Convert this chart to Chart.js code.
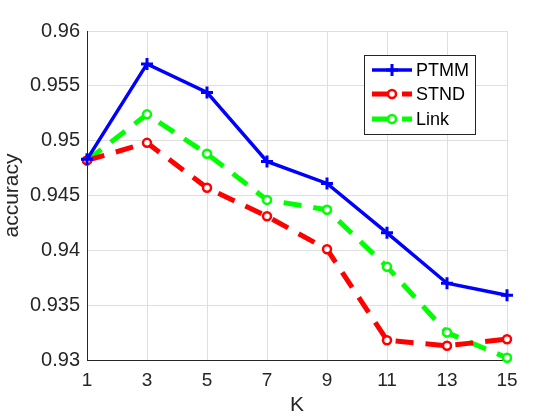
<!DOCTYPE html>
<html><head><meta charset="utf-8">
<script src="https://cdn.jsdelivr.net/npm/chart.js@4/dist/chart.umd.min.js"></script>
<style>html,body{margin:0;padding:0;background:#fff}#wrap{width:560px;height:420px}</style>
</head><body><div id="wrap"><canvas id="c" width="560" height="420"></canvas></div>
<script>
const kValues = [1, 3, 5, 7, 9, 11, 13, 15];
const ptmm = [0.9483, 0.9570, 0.9544, 0.9481, 0.9461, 0.9416, 0.9370, 0.9359];
const stnd = [0.9482, 0.9498, 0.9457, 0.9431, 0.9401, 0.9318, 0.9313, 0.9319];
const link = [0.9482, 0.9524, 0.9488, 0.9446, 0.9437, 0.9385, 0.9325, 0.9302];
const seriesNames = ['PTMM', 'STND', 'Link'];
const yTicks = [0.93, 0.935, 0.94, 0.945, 0.95, 0.955, 0.96];
const xTicks = [1, 3, 5, 7, 9, 11, 13, 15];

const FONT = "'Liberation Sans', Arial, sans-serif";
const TXT = '#262626';
const toPts = arr => arr.map((v, i) => ({x: kValues[i], y: v}));

const legendPlugin = {
  id: 'mlegend',
  afterDatasetsDraw(chart) {
    const ctx = chart.ctx;
    const bx = 364, by = 55, bw = 111, bh = 79;
    ctx.save();
    ctx.fillStyle = '#fff';
    ctx.fillRect(bx, by, bw, bh);
    ctx.strokeStyle = TXT; ctx.lineWidth = 1;
    ctx.strokeRect(bx + 0.5, by + 0.5, bw, bh);
    const rows = [70, 94, 119];
    chart.data.datasets.forEach((ds, i) => {
      const y = rows[i];
      ctx.save();
      ctx.strokeStyle = ds.borderColor;
      ctx.lineWidth = ds.borderWidth;
      ctx.setLineDash(ds.borderDash || []);
      ctx.beginPath(); ctx.moveTo(372, y); ctx.lineTo(412, y); ctx.stroke();
      ctx.setLineDash([]);
      ctx.fillStyle = ds.pointBackgroundColor;
      ctx.strokeStyle = ds.pointBorderColor;
      ctx.lineWidth = ds.pointBorderWidth;
      Chart.helpers.drawPoint(ctx, {pointStyle: ds.pointStyle, radius: ds.pointRadius, rotation: 0, borderWidth: ds.pointBorderWidth}, 392, y);
      ctx.restore();
      ctx.fillStyle = '#000';
      ctx.font = '18px ' + FONT;
      ctx.textBaseline = 'middle';
      ctx.textAlign = 'left';
      ctx.fillText(ds.label, 416, y + 1);
    });
    ctx.restore();
  }
};

new Chart(document.getElementById('c'), {
  type: 'line',
  data: {
    datasets: [
      {label: seriesNames[0], data: toPts(ptmm), borderColor: '#0000ff', borderWidth: 3.5,
       pointStyle: 'cross', pointRadius: 6, pointBorderWidth: 3, pointBorderColor: '#0000ff', pointBackgroundColor: '#0000ff'},
      {label: seriesNames[1], data: toPts(stnd), borderColor: '#ff0000', borderWidth: 5, borderDash: [18, 12],
       pointStyle: 'circle', pointRadius: 4, pointBorderWidth: 2.5, pointBorderColor: '#ff0000', pointBackgroundColor: '#ffffff'},
      {label: seriesNames[2], data: toPts(link), borderColor: '#00ff00', borderWidth: 5, borderDash: [18, 12],
       pointStyle: 'circle', pointRadius: 4, pointBorderWidth: 2.5, pointBorderColor: '#00ff00', pointBackgroundColor: '#ffffff'}
    ]
  },
  options: {
    responsive: false, animation: false, devicePixelRatio: 1,
    clip: false,
    layout: {padding: {left: 0, right: 53, top: 31, bottom: 0}},
    plugins: {legend: {display: false}, tooltip: {enabled: false}},
    elements: {line: {tension: 0, fill: false}},
    scales: {
      x: {
        type: 'linear', min: 1, max: 15,
        afterBuildTicks: s => { s.ticks = xTicks.map(v => ({value: v})); },
        afterFit: s => { s.height = 60; },
        grid: {color: '#dfdfdf', drawTicks: false, lineWidth: 1},
        border: {color: TXT, width: 1},
        ticks: {color: TXT, font: {family: FONT, size: 19}, padding: 9, maxRotation: 0},
        title: {display: true, text: 'K', color: TXT, font: {family: FONT, size: 21}, padding: {top: 0, bottom: 2}}
      },
      y: {
        type: 'linear', min: 0.93, max: 0.96,
        afterBuildTicks: s => { s.ticks = yTicks.map(v => ({value: v})); },
        afterFit: s => { s.width = 87; },
        grid: {color: '#dfdfdf', drawTicks: false, lineWidth: 1},
        border: {color: TXT, width: 1},
        ticks: {color: TXT, font: {family: FONT, size: 20}, padding: 7, callback: v => String(+v.toFixed(3))},
        title: {display: true, text: 'accuracy', color: TXT, font: {family: FONT, size: 21}, padding: {top: 0, bottom: 0}}
      }
    }
  },
  plugins: [legendPlugin]
});
</script></body></html>
